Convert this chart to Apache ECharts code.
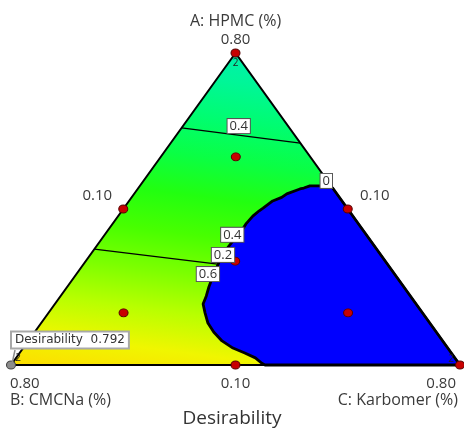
<!DOCTYPE html>
<html>
<head>
<meta charset="utf-8">
<script src="https://cdn.jsdelivr.net/npm/echarts@6/dist/echarts.min.js"></script>
<style>
  html, body { margin: 0; padding: 0; background: #ffffff; }
  #chart { width: 464px; height: 432px; }
</style>
</head>
<body>
<div id="chart"></div>
<script>
// Mixture design: HPMC + CMCNa + Karbomer = 1, each component between 0.10 and 0.80.
// All compositions below are [HPMC, CMCNa, Karbomer] in real proportions.
const componentNames = ['A: HPMC (%)', 'B: CMCNa (%)', 'C: Karbomer (%)'];
const lowerBound = 0.10;
const upperBound = 0.80;
const vertexTicks = ['0.80', '0.80', '0.80'];
const edgeTicks = ['0.10', '0.10', '0.10'];

// Design runs
const designPoints = [
  [0.800, 0.100, 0.100],
  [0.100, 0.100, 0.800],
  [0.450, 0.450, 0.100],
  [0.450, 0.100, 0.450],
  [0.100, 0.450, 0.450],
  [0.567, 0.217, 0.217],
  [0.217, 0.567, 0.217],
  [0.217, 0.217, 0.567],
  [0.333, 0.333, 0.333]
];
const replicatedRuns = [
  [0.800, 0.100, 0.100],
  [0.100, 0.800, 0.100],
  [0.100, 0.100, 0.800]
];
const replicateCount = '2';

// Selected optimum
const selectedPoint = [0.100, 0.800, 0.100];
const selectedLabel = 'Desirability';
const selectedValue = 0.792;

// Straight contour segments of the desirability surface
const contourLevels = [0.4, 0.6];
const contour04 = [[0.632, 0.268, 0.100], [0.598, 0.100, 0.302]];
const contour06 = [[0.360, 0.540, 0.100], [0.325, 0.359, 0.316]];

// Region where desirability is 0 (boundary traced clockwise)
const zeroRegion = [
  [0.497, 0.100, 0.403], [0.502, 0.106, 0.392], [0.502, 0.133, 0.365],
  [0.497, 0.145, 0.358], [0.495, 0.152, 0.353], [0.484, 0.178, 0.338],
  [0.476, 0.190, 0.334], [0.468, 0.208, 0.324], [0.452, 0.231, 0.317],
  [0.446, 0.240, 0.314], [0.434, 0.256, 0.310], [0.416, 0.276, 0.308],
  [0.398, 0.293, 0.309], [0.380, 0.313, 0.307], [0.358, 0.336, 0.306],
  [0.331, 0.360, 0.309], [0.304, 0.382, 0.314], [0.275, 0.404, 0.321],
  [0.255, 0.418, 0.327], [0.237, 0.432, 0.331], [0.217, 0.439, 0.344],
  [0.194, 0.446, 0.360], [0.174, 0.447, 0.379], [0.154, 0.444, 0.402],
  [0.138, 0.435, 0.427], [0.127, 0.422, 0.451], [0.116, 0.411, 0.473],
  [0.104, 0.407, 0.489], [0.100, 0.404, 0.496], [0.100, 0.100, 0.800]
];

// Contour value flags
const contourLabels = ['0.4', '0', '0.4', '0.2', '0.6'];
const contourLabelAt = [
  [0.636, 0.177, 0.187],
  [0.513, 0.102, 0.385],
  [0.392, 0.309, 0.299],
  [0.347, 0.346, 0.307],
  [0.304, 0.391, 0.305]
];

// Colour ramp of the desirability scale
const rampLevels = [0.26, 0.32, 0.38, 0.44, 0.50, 0.56, 0.62, 0.68, 0.74, 0.80];
const rampColors = ['#00eeb4', '#00f698', '#00fd70', '#0aff44', '#22ff10', '#48ff00',
                    '#7cff00', '#b8ff00', '#f0f600', '#ffd800'];

const FONT = '"Open Sans", "Noto Sans", sans-serif';
const TEXT_COLOR = '#3a3a3a';

// ternary composition -> cartesian plot units (B at 0,0; C at 1,0; A at 0.5,1)
function toXY(p) {
  const span = upperBound - lowerBound;
  const a = (p[0] - lowerBound) / span;
  const c = (p[2] - lowerBound) / span;
  return [c + a / 2, a];
}
const vertices = [[upperBound, lowerBound, lowerBound], [lowerBound, upperBound, lowerBound], [lowerBound, lowerBound, upperBound]];
const mid = (p, q) => p.map((v, i) => (v + q[i]) / 2);

const chart = echarts.init(document.getElementById('chart'));

function renderSurface(params, api) {
  const px = pts => pts.map(p => api.coord(toXY(p)));
  const tri = px(vertices);
  const l4 = px(contour04);
  const l6 = px(contour06);

  // gradient direction: normal to the contour lines, scaled by their spacing
  let nx = -(l4[1][1] - l4[0][1]);
  let ny = l4[1][0] - l4[0][0];
  const len = Math.hypot(nx, ny);
  nx /= len; ny /= len;
  const m6 = [(l6[0][0] + l6[1][0]) / 2, (l6[0][1] + l6[1][1]) / 2];
  let dist = (m6[0] - l4[0][0]) * nx + (m6[1] - l4[0][1]) * ny;
  if (dist < 0) { nx = -nx; ny = -ny; dist = -dist; }
  const pxPerUnit = dist / (contourLevels[1] - contourLevels[0]);
  const vLo = rampLevels[0], vHi = rampLevels[rampLevels.length - 1];
  const g0 = [l4[0][0] + nx * (vLo - contourLevels[0]) * pxPerUnit, l4[0][1] + ny * (vLo - contourLevels[0]) * pxPerUnit];
  const g1 = [l4[0][0] + nx * (vHi - contourLevels[0]) * pxPerUnit, l4[0][1] + ny * (vHi - contourLevels[0]) * pxPerUnit];
  const stops = rampLevels.map((v, i) => ({ offset: (v - vLo) / (vHi - vLo), color: rampColors[i] }));

  return {
    type: 'group',
    children: [
      { type: 'polygon', shape: { points: tri },
        style: { fill: new echarts.graphic.LinearGradient(g0[0], g0[1], g1[0], g1[1], stops, true), stroke: null } },
      { type: 'polyline', shape: { points: l4 }, style: { stroke: '#000', lineWidth: 1.3, fill: null } },
      { type: 'polyline', shape: { points: l6 }, style: { stroke: '#000', lineWidth: 1.3, fill: null } },
      { type: 'polygon', shape: { points: px(zeroRegion) },
        style: { fill: '#0000ff', stroke: '#000', lineWidth: 2.8, lineJoin: 'bevel' } },
      { type: 'polygon', shape: { points: tri },
        style: { fill: null, stroke: '#000', lineWidth: 2 } }
    ]
  };
}

function renderAnnotations(params, api) {
  const at = p => api.coord(toXY(p));
  const children = [];
  const txt = (x, y, text, align, size, color) => children.push({
    type: 'text', x: x, y: y,
    style: { text: text, align: align, verticalAlign: 'middle', font: size + 'px ' + FONT, fill: color || TEXT_COLOR }
  });
  const [A, B, C] = vertices.map(at);
  // vertex ticks and component names
  txt(A[0], A[1] - 13, vertexTicks[0], 'center', 15);
  txt(A[0], A[1] - 32, componentNames[0], 'center', 16);
  txt(B[0] - 1, B[1] + 19, vertexTicks[1], 'left', 15);
  txt(B[0] - 1, B[1] + 35, componentNames[1], 'left', 16);
  txt(C[0] - 4, C[1] + 19, vertexTicks[2], 'right', 15);
  txt(C[0] - 2, C[1] + 35, componentNames[2], 'right', 16);
  // edge midpoint ticks
  const mAB = at(mid(vertices[0], vertices[1]));
  const mAC = at(mid(vertices[0], vertices[2]));
  const mBC = at(mid(vertices[1], vertices[2]));
  txt(mAB[0] - 26, mAB[1] - 13, edgeTicks[0], 'center', 15);
  txt(mAC[0] + 27, mAC[1] - 13, edgeTicks[2], 'center', 15);
  txt(mBC[0], mBC[1] + 19, edgeTicks[1], 'center', 15);

  // replicate counts beside the vertex runs
  const repOffsets = [[0, 10], [7, -7], [-9, -6]];
  replicatedRuns.forEach((p, i) => {
    const q = at(p);
    txt(q[0] + repOffsets[i][0], q[1] + repOffsets[i][1], replicateCount, 'center', 10, '#222');
  });

  // contour value flags
  contourLabels.forEach((t, i) => {
    const q = at(contourLabelAt[i]);
    children.push({
      type: 'text', x: q[0], y: q[1],
      style: { text: t, align: 'center', verticalAlign: 'middle', font: '13px ' + FONT, fill: '#333',
               backgroundColor: '#fff', borderColor: '#555', borderWidth: 1, padding: [1, 2, 0, 2] }
    });
  });

  // flag for the selected optimum
  const s = at(selectedPoint);
  children.push({ type: 'line', shape: { x1: s[0] + 1, y1: s[1] - 1, x2: s[0] + 4, y2: s[1] - 15 },
                  style: { stroke: '#8a8a8a', lineWidth: 1.5 } });
  children.push({
    type: 'text', x: s[0] + 1, y: s[1] - 25,
    style: { text: selectedLabel + '  ' + selectedValue.toFixed(3), align: 'left', verticalAlign: 'middle',
             font: '12px "DejaVu Sans", ' + FONT, fill: '#333', backgroundColor: '#fff', borderColor: '#a8a8a8',
             borderWidth: 2, padding: [2, 3, 1, 3] }
  });
  return { type: 'group', children: children };
}

chart.setOption({
  animation: false,
  backgroundColor: '#ffffff',
  title: {
    text: 'Desirability', left: 'center', top: 409, padding: 0,
    textStyle: { fontFamily: FONT, fontSize: 19, fontWeight: 'normal', color: '#333' }
  },
  grid: { left: 11, right: 4, top: 53, bottom: 67 },
  xAxis: { type: 'value', min: 0, max: 1, show: false },
  yAxis: { type: 'value', min: 0, max: 1, show: false },
  series: [
    { type: 'custom', name: 'surface', coordinateSystem: 'cartesian2d', data: [[0, 0]],
      renderItem: renderSurface, silent: true, z: 1 },
    { type: 'scatter', name: 'runs', data: designPoints.map(toXY), symbol: 'circle', symbolSize: [9, 8],
      itemStyle: { color: '#c80000', borderColor: '#5a0000', borderWidth: 1, opacity: 1 }, z: 3 },
    { type: 'scatter', name: 'selected', data: [toXY(selectedPoint)], symbol: 'circle', symbolSize: [9, 8],
      itemStyle: { color: '#8c8c8c', borderColor: '#404040', borderWidth: 1, opacity: 1 }, z: 4 },
    { type: 'custom', name: 'annotations', coordinateSystem: 'cartesian2d', data: [[0, 0]],
      renderItem: renderAnnotations, silent: true, z: 5 }
  ]
});
</script>
</body>
</html>
